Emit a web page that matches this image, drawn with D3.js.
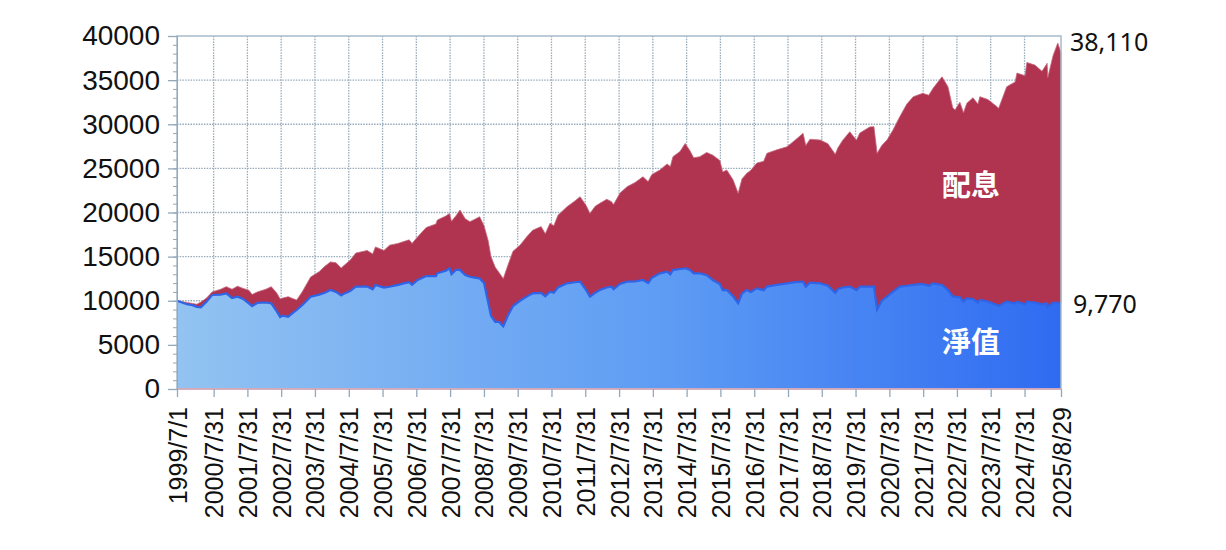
<!DOCTYPE html>
<html><head><meta charset="utf-8">
<script src="https://cdn.jsdelivr.net/npm/d3@7"></script>
<style>html,body{margin:0;padding:0;background:#fff;}svg{display:block;}</style>
</head><body>
<svg id="chart" width="1226" height="550"></svg>
<script>
// ---- data ----
const dates = [
"1999-07-01","1999-10-15","1999-12-15","2000-01-31","2000-03-15","2000-05-15","2000-07-15","2000-10-15","2000-12-15",
"2001-02-15","2001-04-15","2001-06-15","2001-08-15","2001-09-20","2001-11-15",
"2002-02-15","2002-04-15","2002-06-15","2002-07-20","2002-08-15","2002-10-15","2002-12-15",
"2003-01-15","2003-03-15","2003-06-15","2003-09-15","2003-11-15",
"2004-01-15","2004-03-15","2004-05-10","2004-06-15","2004-08-15","2004-10-15",
"2005-02-15","2005-04-15","2005-05-15","2005-08-15","2005-10-15",
"2006-01-15","2006-03-15","2006-05-15","2006-06-15","2006-08-15","2006-11-15",
"2007-02-28","2007-03-15","2007-06-15","2007-07-25","2007-08-15","2007-10-01","2007-11-15",
"2008-01-10","2008-03-01","2008-05-05","2008-06-15","2008-08-01","2008-09-15","2008-10-15","2008-11-30",
"2009-01-10","2009-02-25","2009-04-15","2009-06-10","2009-08-25","2009-11-10",
"2010-01-10","2010-04-10","2010-05-25","2010-07-15","2010-08-25","2010-10-10",
"2011-01-15","2011-04-10","2011-06-05","2011-08-10","2011-09-20","2011-11-15",
"2012-01-05","2012-03-20","2012-05-10","2012-06-01","2012-08-10","2012-10-25",
"2013-01-20","2013-04-15","2013-06-10","2013-07-20","2013-10-15",
"2014-01-01","2014-02-05","2014-03-05","2014-05-20","2014-07-15","2014-09-05","2014-10-15","2014-12-20",
"2015-03-05","2015-05-10","2015-07-25","2015-08-25","2015-10-08","2015-12-15",
"2016-02-08","2016-03-20","2016-05-10","2016-06-25","2016-08-28","2016-11-10","2016-12-15",
"2017-04-01","2017-07-20","2017-10-15",
"2018-01-10","2018-02-08","2018-03-25","2018-07-15","2018-10-05","2018-12-24",
"2019-01-20","2019-03-15","2019-05-30","2019-08-10","2019-09-15",
"2020-01-01","2020-02-15","2020-03-20","2020-05-10","2020-07-05","2020-09-05","2020-11-20",
"2021-02-05","2021-04-15","2021-07-25","2021-09-30","2021-11-15",
"2022-02-20","2022-04-25","2022-06-15","2022-07-10","2022-09-01","2022-10-10","2022-11-15",
"2023-01-20","2023-03-15","2023-04-05","2023-07-01","2023-10-05","2023-10-25",
"2024-01-20","2024-04-20","2024-05-10","2024-08-05","2024-08-25","2024-11-20",
"2025-02-05","2025-04-01","2025-04-08","2025-06-05","2025-07-25","2025-08-29"];

const navValues = [
10000,9600,9500,9300,9250,9900,10650,10700,10830,
10300,10460,10200,9710,9400,9750,
9800,9710,8760,8150,8300,8190,8700,
8950,9500,10460,10700,10900,
11220,11000,10600,10830,11100,11590,
11600,11300,11780,11500,11590,
11800,11970,12100,11800,12350,12800,
12800,13110,13400,13675,13000,13500,13490,
12900,12720,12600,12530,12000,9800,8300,7600,
7600,7100,8300,9400,10000,10500,
10840,10900,10500,11030,10900,11500,
11975,12100,12160,11200,10460,10900,
11220,11500,11600,11300,11900,12160,
12200,12350,12000,12600,13110,
13300,13000,13480,13600,13675,13500,13100,13110,
12900,12350,11900,11200,11220,10500,
9710,10800,11220,11000,11400,11200,11600,
11800,11975,12100,
12160,11600,12050,11975,11700,10900,
11300,11500,11600,11200,11600,
11600,11600,9000,10000,10460,11000,11600,
11700,11790,11900,11700,11975,
11790,11220,10500,10460,10400,9900,10270,
10200,9800,10080,9900,9520,9400,
9900,9700,9900,9600,9900,9800,
9600,9710,9300,9750,9770,9770];

const totalValues = [
10000,9800,9700,9600,9850,10300,11000,11300,11600,
11300,11650,11400,11200,10700,11000,
11300,11600,10850,10200,10300,10460,10200,
10080,11000,12700,13300,13900,
14400,14300,13700,14050,14600,15400,
15700,15300,16100,15700,16300,
16500,16700,16900,16500,17250,18300,
18700,19150,19600,19900,19000,19600,20280,
19300,18960,19300,19520,18500,16800,15000,13800,
13200,12500,14000,15600,16300,17300,
18000,18400,17600,18770,18500,19700,
20650,21300,21790,20800,19900,20700,
21040,21500,21230,20900,22200,22920,
23400,24055,23500,24300,24810,
25500,25200,26320,26900,27830,27000,26200,26320,
26800,26500,25900,24600,24810,23700,
22170,23800,24430,24800,25600,25800,26700,
27100,27450,28200,
28970,27600,28300,28210,27800,26600,
27300,28200,29150,28200,29000,
29700,29720,26700,27600,28210,29300,30850,
32300,33120,33500,33300,34070,
35380,34250,31900,31610,32500,31300,32370,
33000,32300,33120,32800,32000,31800,
34250,34800,35800,35500,37000,36700,
36000,36900,35300,37800,39200,38110];

const yTickValues = [0,5000,10000,15000,20000,25000,30000,35000,40000];
const xTickDates = ["1999-07-01","2000-07-31","2001-07-31","2002-07-31","2003-07-31","2004-07-31","2005-07-31","2006-07-31",
"2007-07-31","2008-07-31","2009-07-31","2010-07-31","2011-07-31","2012-07-31","2013-07-31","2014-07-31","2015-07-31",
"2016-07-31","2017-07-31","2018-07-31","2019-07-31","2020-07-31","2021-07-31","2022-07-31","2023-07-31","2024-07-31","2025-08-29"];
const xTickLabels = ["1999/7/1","2000/7/31","2001/7/31","2002/7/31","2003/7/31","2004/7/31","2005/7/31","2006/7/31",
"2007/7/31","2008/7/31","2009/7/31","2010/7/31","2011/7/31","2012/7/31","2013/7/31","2014/7/31","2015/7/31",
"2016/7/31","2017/7/31","2018/7/31","2019/7/31","2020/7/31","2021/7/31","2022/7/31","2023/7/31","2024/7/31","2025/8/29"];
const seriesNames = ["配息","淨值"];
const endLabels = ["38,110","9,770"];

// ---- drawing ----
const parse = d3.timeParse("%Y-%m-%d");
const data = dates.map((d,i)=>({date:parse(d), nav:navValues[i], total:totalValues[i]}));
const xTicks = xTickDates.map(parse);

const L=177, R=1061, T=36, B=389;
const svg = d3.select("#chart");
const x = d3.scaleTime().domain([parse("1999-07-01"), parse("2025-08-29")]).range([L,R]);
const y = d3.scaleLinear().domain([0,40000]).range([B,T]);

const defs = svg.append("defs");
const grad = defs.append("linearGradient").attr("id","blueGrad").attr("x1","0%").attr("x2","100%").attr("y1","0%").attr("y2","0%");
grad.append("stop").attr("offset","0%").attr("stop-color","#92c3f1");
grad.append("stop").attr("offset","55%").attr("stop-color","#5e9cf4");
grad.append("stop").attr("offset","100%").attr("stop-color","#2f6bf1");

// grid
const grid = svg.append("g").attr("stroke","#98abbb").attr("stroke-width",1.3).attr("stroke-dasharray","1.5,1.2");
grid.selectAll("line.h").data(yTickValues.filter(v=>v>0&&v<40000)).join("line")
  .attr("x1",L).attr("x2",R).attr("y1",d=>y(d)).attr("y2",d=>y(d));
grid.selectAll("line.v").data(xTicks.slice(1,-1)).join("line")
  .attr("x1",d=>x(d)).attr("x2",d=>x(d)).attr("y1",T).attr("y2",B);

// areas
const redArea = d3.area().x(d=>x(d.date)).y0(d=>y(d.nav)).y1(d=>y(d.total));
const blueArea = d3.area().x(d=>x(d.date)).y0(y(0)).y1(d=>y(d.nav));
svg.append("path").datum(data).attr("d",redArea).attr("fill","#b03350")
  .attr("stroke","#c4687f").attr("stroke-width",0.8);
svg.append("path").datum(data).attr("d",blueArea).attr("fill","url(#blueGrad)");
svg.append("path").datum(data).attr("d",d3.line().x(d=>x(d.date)).y(d=>y(d.nav)))
  .attr("fill","none").attr("stroke","#2f64e6").attr("stroke-width",2.2);

// frame
svg.append("rect").attr("x",L).attr("y",T).attr("width",R-L).attr("height",B-T)
  .attr("fill","none").attr("stroke","#a8bac9").attr("stroke-width",1.5);
svg.append("line").attr("x1",L).attr("x2",R).attr("y1",B).attr("y2",B).attr("stroke","#e0a6b4").attr("stroke-width",1.5);

// y axis
const yMinor = d3.range(0,40001,1000);
const yaxMinor = svg.append("g").attr("transform",`translate(${L},0)`)
  .call(d3.axisLeft(y).tickValues(yMinor).tickSize(4).tickFormat(""));
yaxMinor.select(".domain").remove();
yaxMinor.selectAll("line").attr("stroke","#93a8ba");
const yax = svg.append("g").attr("transform",`translate(${L},0)`)
  .call(d3.axisLeft(y).tickValues(yTickValues).tickSize(9).tickPadding(8).tickFormat(d3.format("d")));
yax.select(".domain").attr("stroke","#93a8ba");
yax.selectAll("line").attr("stroke","#93a8ba").attr("stroke-width",1.3);
yax.selectAll("text").attr("font-family","Liberation Sans, Arial, sans-serif").attr("font-size",28).attr("fill","#111");

// x axis
const xax = svg.append("g").attr("transform",`translate(0,${B})`)
  .call(d3.axisBottom(x).tickValues(xTicks).tickSize(8).tickFormat((d,i)=>xTickLabels[i]));
xax.select(".domain").remove();
xax.selectAll("line").attr("stroke","#93a8ba").attr("stroke-width",1.3);
xax.selectAll("text").attr("font-family","Liberation Sans, Arial, sans-serif").attr("font-size",25).attr("fill","#111")
  .attr("transform","rotate(-90)").attr("text-anchor","end").attr("x",-18).attr("y",0).attr("dy","0.36em");

// in-chart labels
const last = data[data.length-1];
svg.append("text").attr("x",971).attr("y",y(23300)).attr("text-anchor","middle").attr("dominant-baseline","central")
  .attr("font-family","Noto Sans CJK TC").attr("font-weight","bold").attr("font-size",29).attr("fill","#fff").text(seriesNames[0]);
svg.append("text").attr("x",971).attr("y",y(5600)).attr("text-anchor","middle").attr("dominant-baseline","central")
  .attr("font-family","Noto Sans CJK TC").attr("font-weight","bold").attr("font-size",29).attr("fill","#fff").text(seriesNames[1]);

// end labels
svg.append("text").attr("x",1070).attr("y",y(39400)).attr("dominant-baseline","central")
  .attr("font-family","Noto Sans, sans-serif").attr("font-size",25).attr("fill","#111").text(endLabels[0]);
svg.append("text").attr("x",1073).attr("y",y(last.nav)).attr("dominant-baseline","central")
  .attr("font-family","Noto Sans, sans-serif").attr("font-size",25).attr("fill","#111").text(endLabels[1]);
</script>
</body></html>
